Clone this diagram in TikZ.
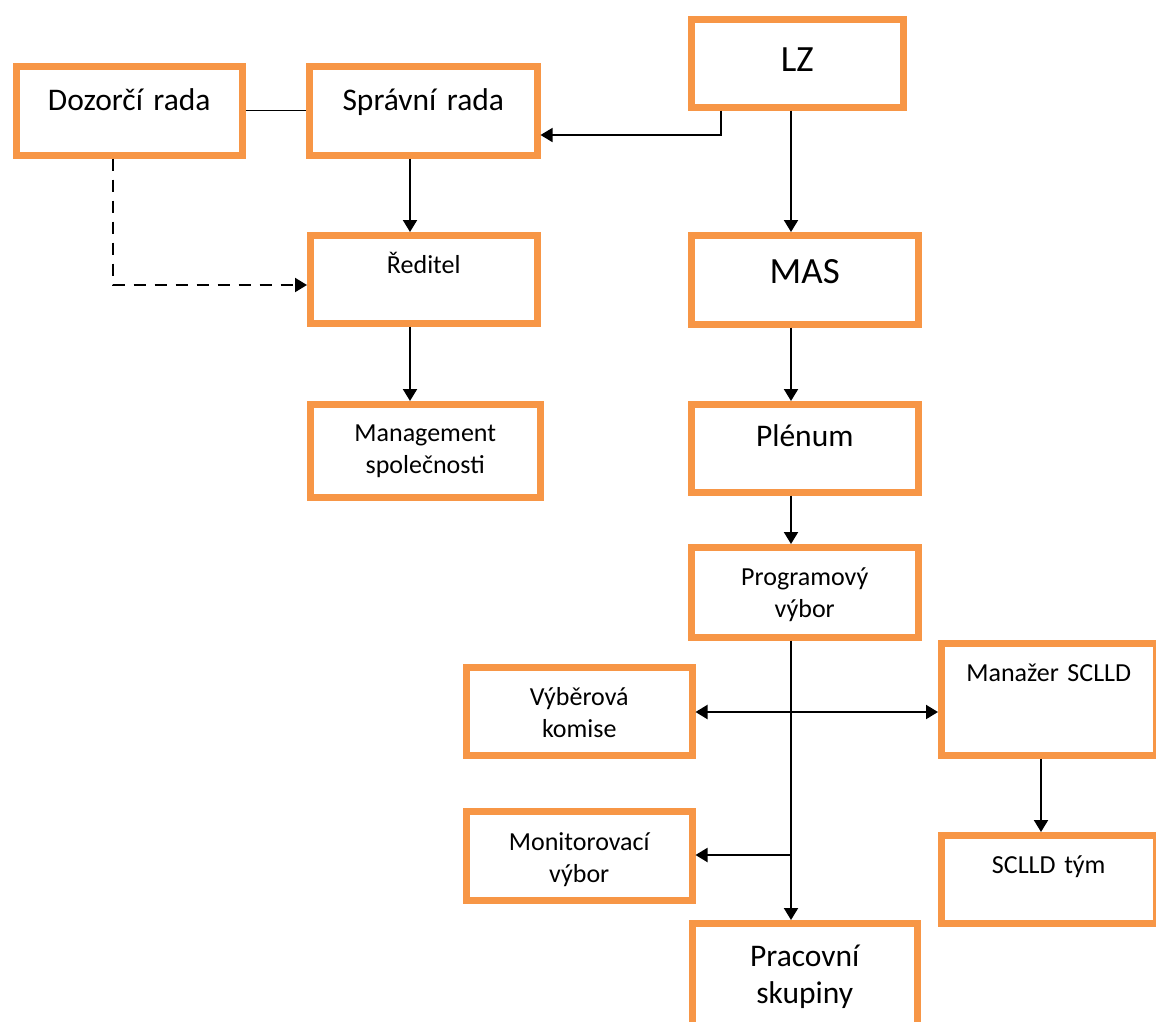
\documentclass[tikz,border=0pt]{standalone}
\usepackage{fontspec}
\setmainfont{Carlito}
\usetikzlibrary{arrows.meta}
\definecolor{boxorange}{RGB}{247,150,70}
\tikzset{
  box/.style={draw=boxorange, fill=white, line width=6.5pt, inner sep=0pt, outer sep=3.25pt, align=center, anchor=north west},
  small/.style={font=\fontsize{26}{32.5}\selectfont},
  medium/.style={font=\fontsize{31.5}{37}\selectfont},
  large/.style={font=\fontsize{37}{44}\selectfont},
  arr/.style={line width=2pt, -{Triangle[length=12pt,width=14pt]}},
  darr/.style={line width=2pt, {Triangle[length=12pt,width=14pt]}-{Triangle[length=12pt,width=14pt]}},
  plain/.style={line width=1.2pt},
  dashline/.style={line width=2pt, dash pattern=on 12pt off 9pt, -{Triangle[length=12pt,width=14pt]}},
}
\begin{document}
\begin{tikzpicture}[x=1pt,y=-1pt]
\useasboundingbox (0,0) rectangle (1156,1021);
\clip (0,0) rectangle (1156,1021);

% boxes (north west corner = centre line of border)
\node[box, medium, text width=226pt, text height=44pt, text depth=45pt] (dr) at (13,63) {Dozorčí rada};
\node[box, medium, text width=228pt, text height=44pt, text depth=45pt] (sr) at (306,63) {Správní rada};
\node[box, large, text width=212pt, text height=52pt, text depth=36pt] (lz) at (688,16) {LZ};
\node[box, small, text width=227pt, text height=38pt, text depth=50pt] (red) at (307,232) {Ředitel};
\node[box, large, text width=227pt, text height=48pt, text depth=41pt] (mas) at (688,232) {MAS};
\node[box, small, text width=230pt, text height=37pt, text depth=56pt] (mg) at (307,401) {Management\\společnosti};
\node[box, medium, text width=227pt, text height=42pt, text depth=46pt] (pl) at (688,401) {Plénum};
\node[box, small, text width=227pt, text height=38pt, text depth=52pt] (pv) at (688,544) {Programový\\výbor};
\node[box, small, text width=226pt, text height=38pt, text depth=50pt] (vk) at (463,664) {Výběrová\\komise};
\node[box, small, text width=226pt, text height=39pt, text depth=50pt] (mv) at (463,808) {Monitorovací\\výbor};
\node[box, small, text width=215pt, text height=38pt, text depth=74pt] (mz) at (938,640) {Manažer SCLLD};
\node[box, small, text width=215pt, text height=38pt, text depth=50pt] (st) at (938,832) {SCLLD tým};
\node[box, medium, text width=225pt, text height=43pt, text depth=72pt] (ps) at (689,920) {Pracovní\\skupiny};

% helper coordinates
\coordinate (colm) at (791,0);
\coordinate (cols) at (410,0);
\coordinate (lzb) at (721,135);
\coordinate (dz) at (113,285);
\coordinate (hv) at (0,712);
\coordinate (hm) at (791,855);
\coordinate (cm) at (1041,0);

% connectors
\draw[plain] (dr.east) -- (sr.west);
\draw[arr, line width=1.6pt] (lz.south -| lzb) -- (lzb) -- (lzb -| sr.east);
\draw[arr] (lz.south -| colm) -- (mas.north -| colm);
\draw[arr] (sr.south -| cols) -- (red.north -| cols);
\draw[dashline] (dr.south -| dz) -- (dz) -- (dz -| red.west);
\draw[arr] (red.south -| cols) -- (mg.north -| cols);
\draw[arr] (mas.south -| colm) -- (pl.north -| colm);
\draw[arr] (pl.south -| colm) -- (pv.north -| colm);
\draw[arr] (pv.south -| colm) -- (ps.north -| colm);
\draw[darr] (vk.east |- hv) -- (mz.west |- hv);
\draw[arr] (hm) -- (hm -| mv.east);
\draw[arr] (mz.south -| cm) -- (st.north -| cm);
\end{tikzpicture}
\end{document}
